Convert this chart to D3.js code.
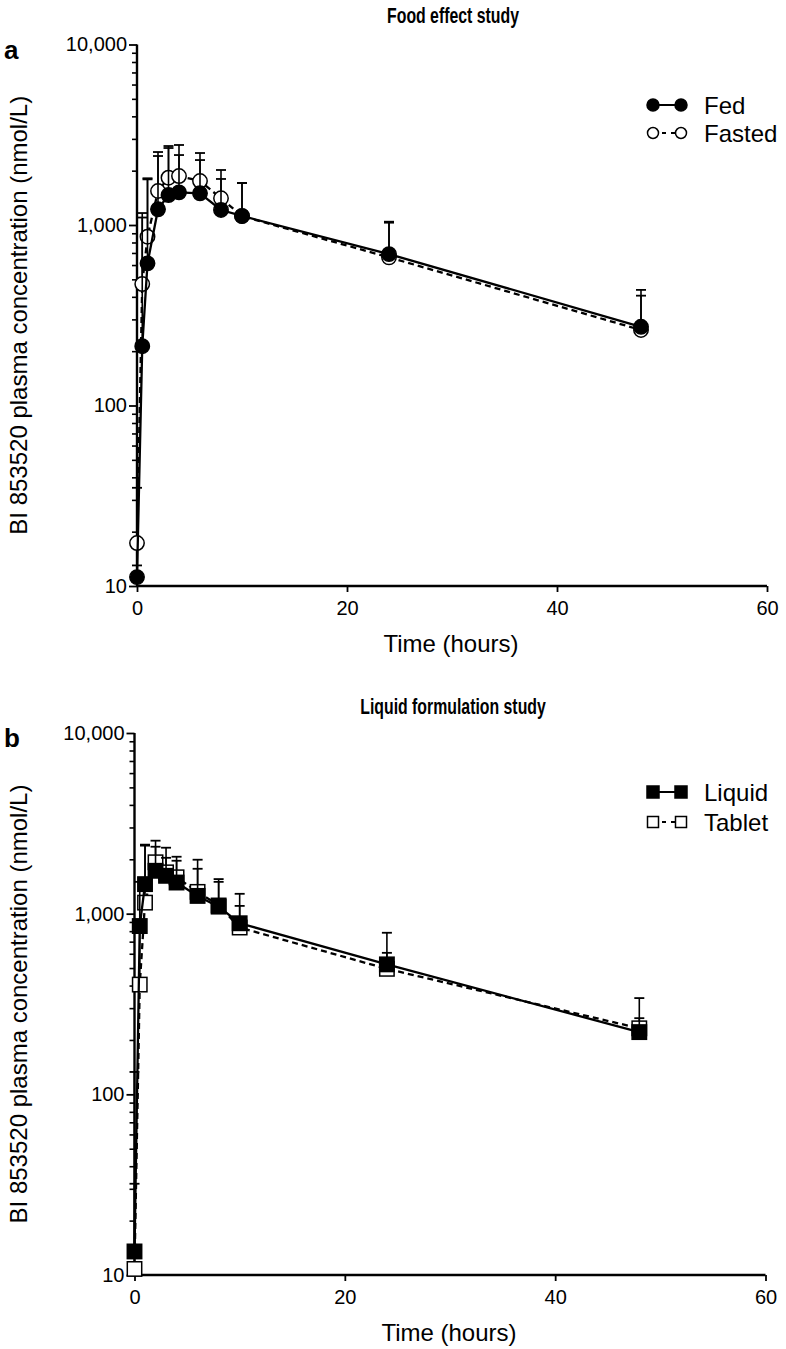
<!DOCTYPE html>
<html><head><meta charset="utf-8">
<script src="https://cdn.jsdelivr.net/npm/d3@7"></script>
<style>body{margin:0;background:#fff}svg{display:block}</style>
</head><body>
<svg id="c" width="786" height="1349"></svg>
<script>
// ---- data ----
const times = [0, 0.5, 1, 2, 3, 4, 6, 8, 10, 24, 48];
const fedMean      = [11.2, 213, 613, 1222, 1466, 1517, 1498, 1211, 1122, 690, 273];
const fedUpper     = [13, 1100, 1790, 2411, 2670, 2441, 2290, 1799, 1709, 1030, 406];
const fastedMean   = [17.3, 471, 861, 1543, 1828, 1867, 1752, 1406, 1120, 662, 262];
const fastedUpper  = [35, 1165, 1815, 2537, 2739, 2775, 2505, 2017, 1709, 1043, 437];
const liquidMean   = [13.5, 854, 1457, 1727, 1620, 1487, 1254, 1094, 885, 524, 221];
const liquidUpper  = [32, 1500, 2410, 2347, 2038, 1963, 1772, 1500, 1104, 607, 264];
const tabletMean   = [10.8, 405, 1151, 1925, 1693, 1590, 1320, 1110, 838, 495, 232];
const tabletUpper  = [133, 900, 2380, 2535, 2318, 2066, 1989, 1554, 1288, 784, 341];
const xTicks = [0, 20, 40, 60];
const yTicks = [10, 100, 1000, 10000];
const yTickLabels = ["10", "100", "1,000", "10,000"];
const panelTitles = ["Food effect study", "Liquid formulation study"];
const panelLetters = ["a", "b"];
const seriesNamesA = ["Fed", "Fasted"];
const seriesNamesB = ["Liquid", "Tablet"];
const yTitle = "BI 853520 plasma concentration (nmol/L)";
const xTitle = "Time (hours)";

const svg = d3.select("#c");
const FONT = "'Liberation Sans', Arial, Helvetica, sans-serif";

const panels = [
  {x0: 137, x1: 767, yBot: 586, yTop: 44.5, title: panelTitles[0], titleBase: 23, letter: panelLetters[0],
   shape: "circle", legendY: [105, 133],
   series: [
     {name: seriesNamesA[1], mean: fastedMean, upper: fastedUpper, filled: false, dash: "6,4"},
     {name: seriesNamesA[0], mean: fedMean, upper: fedUpper, filled: true, dash: null}
   ]},
  {x0: 134.5, x1: 765.5, yBot: 1275, yTop: 733, title: panelTitles[1], titleBase: 714, letter: panelLetters[1],
   shape: "square", legendY: [792, 822],
   series: [
     {name: seriesNamesB[1], mean: tabletMean, upper: tabletUpper, filled: false, dash: "6,4"},
     {name: seriesNamesB[0], mean: liquidMean, upper: liquidUpper, filled: true, dash: null}
   ]}
];

function marker(g, shape, cx, cy, filled, r) {
  if (shape === "circle") {
    g.append("circle").attr("cx", cx).attr("cy", cy).attr("r", r)
      .attr("fill", filled ? "#000" : "#fff").attr("stroke", "#000").attr("stroke-width", 1.5);
  } else {
    g.append("rect").attr("x", cx - r).attr("y", cy - r).attr("width", 2 * r).attr("height", 2 * r)
      .attr("fill", filled ? "#000" : "#fff").attr("stroke", "#000").attr("stroke-width", 1.5);
  }
}

panels.forEach(p => {
  const x = d3.scaleLinear().domain([0, 60]).range([p.x0, p.x1]);
  const y = d3.scaleLog().domain([10, 10000]).range([p.yBot, p.yTop]);
  const g = svg.append("g");

  // Y axis
  const minor = [];
  for (let d = 10; d < 10000; d *= 10) for (let k = 2; k <= 9; k++) minor.push(d * k);
  const yMinor = d3.axisLeft(y).tickValues(minor).tickSize(5).tickFormat("");
  g.append("g").attr("transform", `translate(${p.x0},0)`).call(yMinor)
    .call(a => a.select(".domain").remove())
    .call(a => a.selectAll("line").attr("stroke-width", 1.6));
  const yAx = d3.axisLeft(y).tickValues(yTicks).tickSize(8).tickPadding(2)
    .tickFormat((d, i) => yTickLabels[i]);
  g.append("g").attr("transform", `translate(${p.x0},0)`).call(yAx)
    .call(a => a.select(".domain").attr("stroke-width", 2.4).attr("d", `M0,${p.yTop}V${p.yBot}`))
    .call(a => a.selectAll("line").attr("stroke-width", 1.8))
    .call(a => a.selectAll("text").attr("font-family", FONT).attr("font-size", 20).attr("fill", "#000"));

  // X axis
  const xAx = d3.axisBottom(x).tickValues(xTicks).tickSize(6).tickPadding(9);
  g.append("g").attr("transform", `translate(0,${p.yBot})`).call(xAx)
    .call(a => a.select(".domain").attr("stroke-width", 2.4).attr("d", `M${p.x0},0H${p.x1}`))
    .call(a => a.selectAll("line").attr("stroke-width", 1.8))
    .call(a => a.selectAll("text").attr("font-family", FONT).attr("font-size", 20).attr("fill", "#000"));

  // titles
  g.append("text").attr("transform", `translate(453,${p.titleBase}) scale(0.72,1)`)
    .attr("text-anchor", "middle")
    .attr("font-family", FONT).attr("font-weight", "bold").attr("font-size", 22).text(p.title);
  g.append("text").attr("x", 4).attr("y", p.yTop + 14)
    .attr("font-family", FONT).attr("font-weight", "bold").attr("font-size", 26).text(p.letter);
  g.append("text").attr("x", (p.x0 + p.x1) / 2 - 1).attr("y", p.yBot + 66).attr("text-anchor", "middle")
    .attr("font-family", FONT).attr("font-size", 24).text(xTitle);
  g.append("text").attr("transform", `translate(27,${(p.yTop + p.yBot) / 2}) rotate(-90)`)
    .attr("text-anchor", "middle").attr("font-family", FONT).attr("font-size", 24).text(yTitle);

  // series
  p.series.forEach(s => {
    const pts = times.map((t, i) => ({t, m: s.mean[i], u: s.upper[i]}));
    pts.forEach(d => {
      if (d.u > d.m) {
        g.append("line").attr("x1", x(d.t)).attr("x2", x(d.t)).attr("y1", y(d.m)).attr("y2", y(d.u))
          .attr("stroke", "#000").attr("stroke-width", 1.6);
        g.append("line").attr("x1", x(d.t) - 5).attr("x2", x(d.t) + 5).attr("y1", y(d.u)).attr("y2", y(d.u))
          .attr("stroke", "#000").attr("stroke-width", 1.8);
      }
    });
    const line = d3.line().x(d => x(d.t)).y(d => y(d.m));
    g.append("path").datum(pts).attr("d", line).attr("fill", "none").attr("stroke", "#000")
      .attr("stroke-width", 2.3).attr("stroke-dasharray", s.dash);
    pts.forEach(d => marker(g, p.shape, x(d.t), y(d.m), s.filled, 7.2));
  });

  // legend
  [p.series[1], p.series[0]].forEach((s, i) => {
    const ly = p.legendY[i];
    g.append("line").attr("x1", 653).attr("x2", 681).attr("y1", ly).attr("y2", ly)
      .attr("stroke", "#000").attr("stroke-width", 2).attr("stroke-dasharray", s.dash ? "4,5" : null);
    marker(g, p.shape, 653, ly, s.filled, s.filled ? 6 : 5.5);
    marker(g, p.shape, 681, ly, s.filled, s.filled ? 6 : 5.5);
    g.append("text").attr("x", 704).attr("y", ly + 8.5).attr("font-family", FONT).attr("font-size", 24)
      .text(s.name);
  });
});
</script>
</body></html>
